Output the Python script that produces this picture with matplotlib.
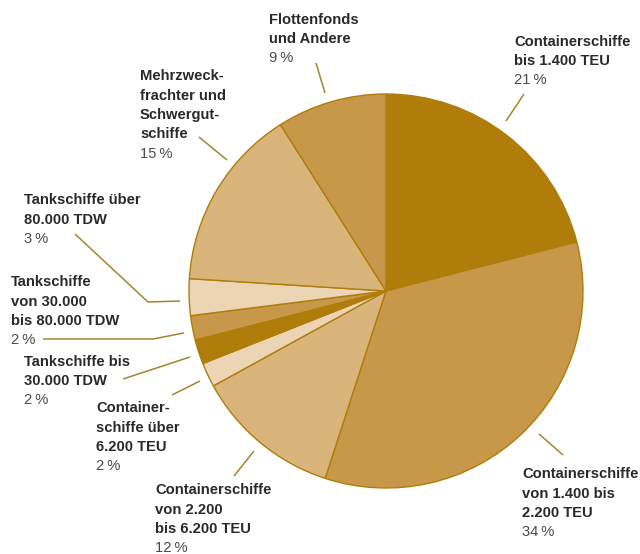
import matplotlib
matplotlib.use('Agg')
import matplotlib.pyplot as plt

# shares in percent, clockwise from 12 o'clock
labels = [
    ['Containerschiffe', 'bis 1.400 TEU'],
    ['Containerschiffe', 'von 1.400 bis', '2.200 TEU'],
    ['Containerschiffe', 'von 2.200', 'bis 6.200 TEU'],
    ['Container-', 'schiffe über', '6.200 TEU'],
    ['Tankschiffe bis', '30.000 TDW'],
    ['Tankschiffe', 'von 30.000', 'bis 80.000 TDW'],
    ['Tankschiffe über', '80.000 TDW'],
    ['Mehrzweck-', 'frachter und', 'Schwergut-', 'schiffe'],
    ['Flottenfonds', 'und Andere'],
]
shares = [21, 34, 12, 2, 2, 2, 3, 15, 9]

dark = '#B07D0A'
mid = '#C7974A'
light = '#D9B47B'
pale = '#EBD5B4'
colors = [dark, mid, light, pale, dark, mid, pale, light, mid]

# layout (pixels from top-left): text left / cap-top, leader line points
text_pos = [(514, 35), (522, 468), (155, 484), (96, 402), (24, 355),
            (11, 276), (24, 194), (140, 70), (269, 13)]
leaders = [
    [(524, 94), (506, 121)],
    [(539, 434), (563, 455)],
    [(234, 476), (254, 451)],
    [(172, 395), (200, 381)],
    [(123, 379), (190, 357)],
    [(43, 339), (153, 339), (184, 333)],
    [(75, 234), (148, 302), (180, 301)],
    [(199, 137), (227, 160)],
    [(316, 63), (325, 93)],
]

W, H = 640, 554
fig = plt.figure(figsize=(6.4, 5.54), dpi=100)
ax = fig.add_axes([0, 0, 1, 1])

def py(y):
    return H - y

ax.pie(shares, colors=colors, startangle=90, counterclock=False,
       center=(386, py(291)), radius=197,
       wedgeprops=dict(edgecolor=dark, linewidth=1.0))

ax.set_xlim(0, W)
ax.set_ylim(0, H)
ax.set_aspect('equal')
ax.axis('off')

font = 'Liberation Sans'
fs = 10.6
step = 19.3
cap = 10.5
for lab, val, (tx, ty), pts in zip(labels, shares, text_pos, leaders):
    for i, line in enumerate(lab):
        ax.text(tx, py(ty + cap + i * step), line, fontsize=fs, fontweight='bold',
                family=font, color='#2a2a2a', va='baseline', ha='left')
    ax.text(tx, py(ty + cap + len(lab) * step), '%d\u2009%%' % val, fontsize=fs,
            family=font, color='#4a4a4a', va='baseline', ha='left')
    ax.plot([p[0] for p in pts], [py(p[1]) for p in pts], color='#A2862F',
            linewidth=1.1, solid_capstyle='butt')

fig.savefig('out.png', dpi=100)
